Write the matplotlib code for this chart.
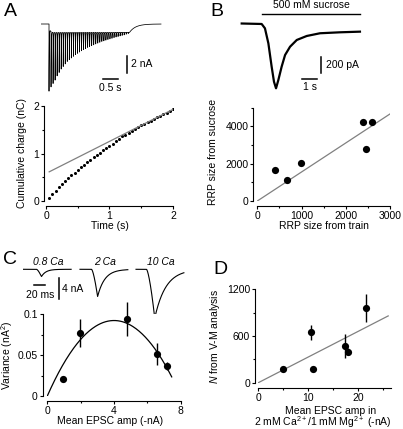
import numpy as np
import matplotlib
matplotlib.use('Agg')
import matplotlib.pyplot as plt
from matplotlib.ticker import MultipleLocator

plt.rcParams['font.family'] = ['Liberation Sans', 'DejaVu Sans']
plt.rcParams['mathtext.fontset'] = 'custom'
plt.rcParams['mathtext.rm'] = 'Liberation Sans'
plt.rcParams['mathtext.it'] = 'Liberation Sans:italic'
plt.rcParams['mathtext.default'] = 'regular'

# ---------------- data ----------------
# A: train EPSC peak amplitudes (nA, total inward current at each pulse)
trainA_peaks = [7.9, 7.4, 7.0, 6.6, 6.1, 5.7, 5.3, 5.0, 4.7, 4.4, 4.2, 4.0, 3.8,
                3.6, 3.45, 3.3, 3.15, 3.0, 2.9, 2.75, 2.65, 2.55, 2.45, 2.35,
                2.25, 2.15, 2.05, 1.98, 1.9, 1.82, 1.75, 1.68, 1.6, 1.53, 1.47,
                1.4, 1.34, 1.28, 1.2, 1.12]
trainA_tonic = 1.0
# A: cumulative charge
A_time = [0.05, 0.10, 0.15, 0.20, 0.25, 0.30, 0.35, 0.40, 0.45, 0.50,
          0.55, 0.60, 0.65, 0.70, 0.75, 0.80, 0.85, 0.90, 0.95, 1.00,
          1.05, 1.10, 1.15, 1.20, 1.25, 1.30, 1.35, 1.40, 1.45, 1.50,
          1.55, 1.60, 1.65, 1.70, 1.75, 1.80, 1.85, 1.90, 1.95, 2.00]
A_charge = [0.07, 0.15, 0.22, 0.29, 0.36, 0.42, 0.48, 0.54, 0.60, 0.66,
            0.71, 0.76, 0.82, 0.87, 0.92, 0.97, 1.02, 1.07, 1.12, 1.16,
            1.21, 1.26, 1.31, 1.36, 1.40, 1.44, 1.48, 1.52, 1.55, 1.59,
            1.62, 1.66, 1.69, 1.72, 1.76, 1.79, 1.83, 1.86, 1.89, 1.93]
A_fit_intercept = 0.58
A_fit_slope = 0.675

# B: sucrose response (s, pA)
B_trace_t = [0, 1.28, 1.49, 1.71, 1.92, 2.07, 2.2, 2.35, 2.56, 2.78, 3.1,
             3.53, 4.17, 5.02, 6.3, 7.58]
B_trace_i = [0, -6, -60, -248, -540, -728, -810, -706, -540, -394, -290,
             -206, -156, -122, -110, -102]
B_sucrose_on = 1.3
B_sucrose_off = 7.58
B_train = [400, 665, 995, 2400, 2600, 2450]
B_sucrose = [1680, 1130, 2040, 4230, 4230, 2800]
B_slope = 1.555

# C: example EPSCs
C_labels = ['0.8 Ca', '2 Ca', '10 Ca']
C_amp = [1.4, 5.2, 9.3]          # nA
C_onset = [24, 21, 19]           # ms
C_peak_t = [33, 32, 34]          # ms
C_tau = [8, 13, 20]              # ms
C_offset = [0.5, 103.6, 205.5]   # ms
C_mean = [0.96, 1.98, 4.8, 6.6, 7.16]
C_var = [0.021, 0.077, 0.094, 0.051, 0.037]
C_err = [0.0, 0.017, 0.021, 0.0135, 0.005]
C_q = 0.046
C_N = 174

# D
D_amp = [5.0, 11.0, 10.6, 17.4, 17.9, 21.6]
D_N = [180, 175, 650, 470, 400, 960]
D_err = [0, 0, 95, 150, 40, 180]
D_slope = 33

# ---------------- figure ----------------
W, H = 403, 429
fig = plt.figure(figsize=(W / 100, H / 100), dpi=100)


def px_axes(l, t, r, b):
    return fig.add_axes([l / W, 1 - b / H, (r - l) / W, (b - t) / H])


FS = 7.5
LW = 0.8


def style(ax, left_out, bottom_out):
    for s in ['top', 'right']:
        ax.spines[s].set_visible(False)
    ax.spines['left'].set_position(('outward', left_out))
    ax.spines['bottom'].set_position(('outward', bottom_out))
    for s in ['left', 'bottom']:
        ax.spines[s].set_linewidth(LW)
    ax.tick_params(which='major', direction='out', length=2.4, width=LW,
                   labelsize=FS, pad=1.2)
    ax.tick_params(which='minor', direction='out', length=1.6, width=LW)


# ---- A trace ----
axTA = px_axes(41, 20, 166, 95)
axTA.set_xlim(0, 125 / 30)
axTA.set_ylim(-(95 - 24) / 8.5, (24 - 20) / 8.5)
axTA.axis('off')
t0 = 0.267
dtp = 0.0677
ptimes = t0 + dtp * np.arange(len(trainA_peaks))
tg = np.union1d(np.arange(0, 4.0, 0.0004), ptimes)
tonic = np.where(tg < t0, 0.0, trainA_tonic * (1 - np.exp(-(tg - t0) / 0.03)))
t_end = ptimes[-1] + dtp * 0.6
aft = tg > t_end
tonic[aft] = trainA_tonic * (1 - np.exp(-(t_end - t0) / 0.03)) * np.exp(-(tg[aft] - t_end) / 0.2)
phasic = np.zeros_like(tg)
for ti, pk in zip(ptimes, trainA_peaks):
    ton = 0.0 if ti <= t0 else trainA_tonic * (1 - np.exp(-(ti - t0) / 0.03))
    m = tg >= ti
    phasic[m] += (pk - ton) * np.exp(-(tg[m] - ti) / 0.008)
axTA.plot(tg, -(tonic + phasic), color='k', lw=0.55)
# scale bars
axTA.plot([2.867, 2.867], [-3.76, -5.76], color='k', lw=1.1, clip_on=False)
axTA.plot([2.067, 2.567], [-6.47, -6.47], color='k', lw=1.1, clip_on=False)
axTA.text(3.0, -4.76, '2 nA', fontsize=FS, ha='left', va='center')
axTA.text(2.317, -7.5, '0.5 s', fontsize=FS, ha='center', va='center')

# ---- A cumulative ----
axA = px_axes(46, 106, 173, 201)
style(axA, 1.4, 3.6)
axA.plot(A_time, A_charge, 'o', color='k', ms=2.2, mec='none')
xl = np.array([A_time[0], A_time[-1]])
axA.plot(xl, A_fit_intercept + A_fit_slope * xl, color='0.5', lw=0.9)
axA.set_xlim(0, 2)
axA.set_ylim(0, 2)
axA.set_xticks([0, 1, 2])
axA.set_yticks([0, 1, 2])
axA.xaxis.set_minor_locator(MultipleLocator(0.5))
axA.yaxis.set_minor_locator(MultipleLocator(0.5))
axA.set_xlabel('Time (s)', fontsize=FS)
axA.set_ylabel('Cumulative charge (nC)', fontsize=FS)
axA.yaxis.set_label_coords(-0.152, 0.5)
axA.xaxis.set_label_coords(0.5, -0.215)

# ---- B trace ----
axTB = px_axes(240, 0, 365, 95)
axTB.set_xlim((240 - 241.7) / 15.6, (365 - 241.7) / 15.6)
axTB.set_ylim(-(95 - 23.5) * 12.5, 23.5 * 12.5)
axTB.axis('off')
axTB.plot(B_trace_t, B_trace_i, color='k', lw=1.6, solid_joinstyle='round')
axTB.plot([B_sucrose_on, B_sucrose_off], [119, 119], color='k', lw=1.0)
axTB.text((B_sucrose_on + B_sucrose_off) / 2, 225, '500 mM sucrose', fontsize=FS,
          ha='center', va='center')
axTB.plot([5.06, 5.06], [-419, -619], color='k', lw=1.1)
axTB.plot([3.85, 4.85], [-694, -694], color='k', lw=1.1)
axTB.text(5.4, -519, '200 pA', fontsize=FS, ha='left', va='center')
axTB.text(4.35, -800, '1 s', fontsize=FS, ha='center', va='center')

# ---- B scatter ----
axB = px_axes(257.3, 107.7, 390, 201)
style(axB, 2.9, 3.6)
xb = np.array([0, 3000])
axB.plot(xb, B_slope * xb, color='0.5', lw=0.9)
axB.plot(B_train, B_sucrose, 'o', color='k', ms=5.2, mec='none', clip_on=False)
axB.set_xlim(0, 3000)
axB.set_ylim(0, 5000)
axB.set_xticks([0, 1000, 2000, 3000])
axB.set_yticks([0, 2000, 4000])
axB.xaxis.set_minor_locator(MultipleLocator(500))
axB.yaxis.set_minor_locator(MultipleLocator(1000))
axB.set_xlabel('RRP size from train', fontsize=FS)
axB.set_ylabel('RRP size from sucrose', fontsize=FS)
axB.yaxis.set_label_coords(-0.296, 0.53)
axB.xaxis.set_label_coords(0.5, -0.21)

# ---- C traces ----
axTC = px_axes(23, 250, 190, 325)
axTC.set_xlim(0, (190 - 23) / 0.55)
axTC.set_ylim(-(325 - 269.3) / 5.25, (269.3 - 250) / 5.25)
axTC.axis('off')
for lab, a, on, pk, tau, off in zip(C_labels, C_amp, C_onset, C_peak_t, C_tau, C_offset):
    tt = np.linspace(0, 87, 400)
    ii = np.zeros_like(tt)
    m1 = (tt > on) & (tt <= pk)
    ii[m1] = -a * ((tt[m1] - on) / (pk - on)) ** 1.5
    m2 = tt > pk
    ii[m2] = -a * np.exp(-(tt[m2] - pk) / tau)
    axTC.plot(tt + off, ii, color='k', lw=0.8)
    axTC.text(off + 45, 1.45, lab, fontsize=FS, style='italic', ha='center', va='center')
axTC.plot([20, 40], [-3.0, -3.0], color='k', lw=1.1)
axTC.plot([66, 66], [-1.71, -5.71], color='k', lw=1.1)
axTC.text(32, -4.9, '20 ms', fontsize=FS, ha='center', va='center')
axTC.text(70.5, -3.8, '4 nA', fontsize=FS, ha='left', va='center')

# ---- C variance-mean ----
axC = px_axes(47.3, 314, 180.7, 396)
style(axC, 3.3, 3.6)
xc = np.linspace(0, 7.46, 200)
axC.plot(xc, C_q * xc - xc ** 2 / C_N, color='k', lw=0.9)
axC.errorbar(C_mean, C_var, yerr=C_err, fmt='o', color='k', ms=5.2, mec='none',
             elinewidth=1.0, capsize=0, clip_on=False)
axC.set_xlim(0, 8)
axC.set_ylim(0, 0.1)
axC.set_xticks([0, 4, 8])
axC.set_yticks([0, 0.05, 0.1])
axC.set_yticklabels(['0', '0.05', '0.1'])
axC.xaxis.set_minor_locator(MultipleLocator(2))
axC.yaxis.set_minor_locator(MultipleLocator(0.025))
axC.set_xlabel('Mean EPSC amp (-nA)', fontsize=FS)
axC.set_ylabel('Variance (nA$^{2}$)', fontsize=FS)
axC.yaxis.set_label_coords(-0.242, 0.49)
axC.xaxis.set_label_coords(0.47, -0.24)

# ---- D ----
axD = px_axes(258.3, 289.3, 390.7, 382.7)
style(axD, 2.4, 3.6)
xd = np.array([0, 26])
axD.plot(xd, D_slope * xd, color='0.5', lw=0.9)
axD.errorbar(D_amp, D_N, yerr=D_err, fmt='o', color='k', ms=5.2, mec='none',
             elinewidth=1.0, capsize=0, clip_on=False)
axD.set_xlim(0, 26.5)
axD.set_ylim(0, 1200)
axD.set_xticks([0, 10, 20])
axD.set_yticks([0, 600, 1200])
axD.xaxis.set_minor_locator(MultipleLocator(5))
axD.yaxis.set_minor_locator(MultipleLocator(300))
axD.set_ylabel('$\\mathit{N}$ from V-M analysis', fontsize=FS)
axD.yaxis.set_label_coords(-0.276, 0.49)
fig.text(330.7 / W, 1 - 410.5 / H, 'Mean EPSC amp in', fontsize=FS, ha='center', va='center')
fig.text(322.5 / W, 1 - 422 / H, '2 mM Ca$^{2+}$/1 mM Mg$^{2+}$ (-nA)', fontsize=FS,
         ha='center', va='center')

# panel letters
for lab, x, y in [('A', 10, 12), ('B', 217, 12), ('C', 9.5, 259), ('D', 220, 269)]:
    fig.text(x / W, 1 - y / H, lab, fontsize=14, ha='center', va='center')

fig.savefig('out.png', dpi=100)
